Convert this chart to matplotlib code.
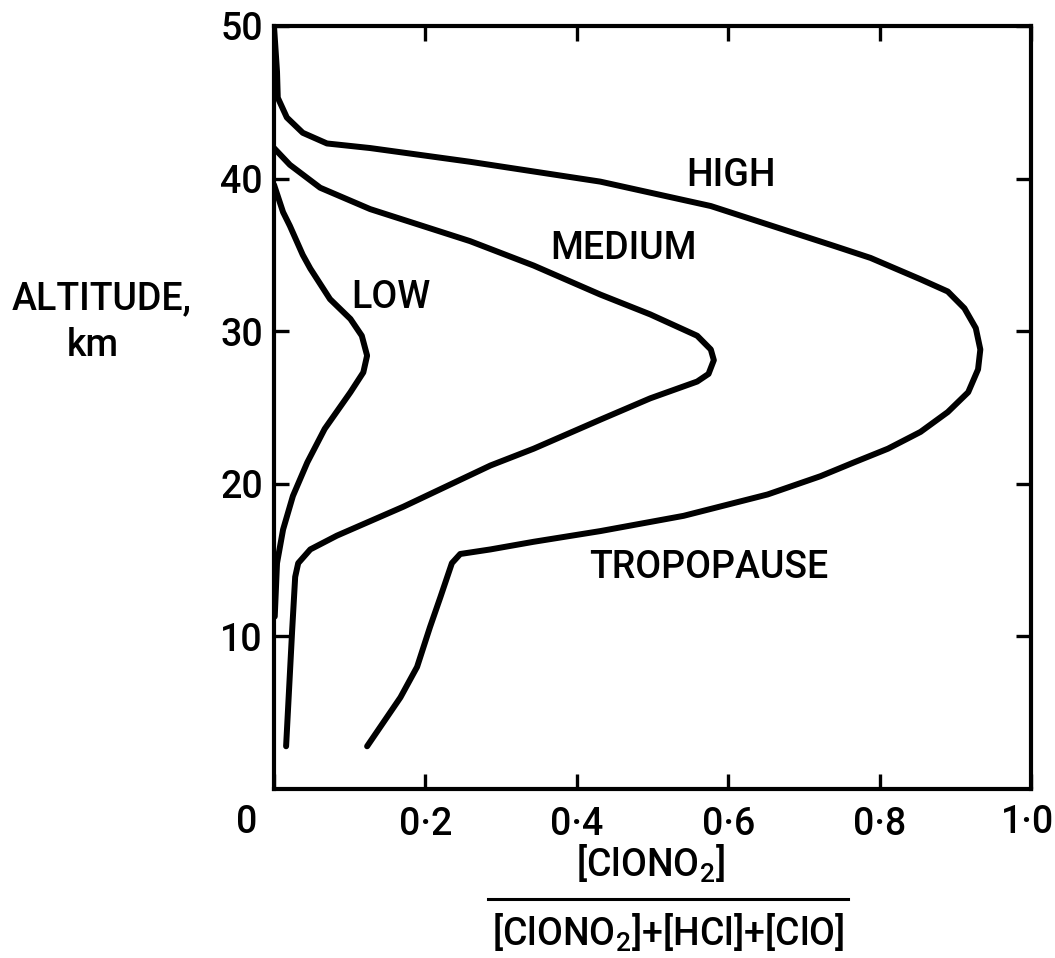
import matplotlib
matplotlib.use("Agg")
import matplotlib.pyplot as plt
from matplotlib.lines import Line2D

plt.rcParams['font.family'] = ['Roboto', 'DejaVu Sans']
plt.rcParams['font.weight'] = 'medium'
plt.rcParams['mathtext.fontset'] = 'custom'
plt.rcParams['mathtext.rm'] = 'Roboto:medium'
plt.rcParams['mathtext.default'] = 'rm'

# ---- data ----
high_x = [0.000, 0.002, 0.004, 0.005, 0.017, 0.038, 0.070, 0.127, 0.259, 0.431, 0.577, 0.739,
          0.788, 0.854, 0.890, 0.912, 0.927, 0.933, 0.930, 0.917, 0.890, 0.854, 0.811, 0.766,
          0.722, 0.652, 0.541, 0.431, 0.343, 0.286, 0.246, 0.235, 0.220, 0.206, 0.189, 0.167, 0.123]
high_y = [50.0, 48.5, 47.0, 45.3, 44.0, 43.0, 42.3, 42.0, 41.1, 39.8, 38.2, 35.6,
          34.8, 33.4, 32.6, 31.5, 30.2, 28.8, 27.5, 26.0, 24.7, 23.4, 22.3, 21.4,
          20.5, 19.3, 17.9, 16.9, 16.2, 15.7, 15.4, 14.8, 12.6, 10.6, 8.0, 6.0, 2.8]

med_x = [0.000, 0.021, 0.061, 0.127, 0.259, 0.343, 0.431, 0.497, 0.559, 0.577, 0.581, 0.574,
         0.559, 0.497, 0.431, 0.343, 0.286, 0.171, 0.083, 0.048, 0.032, 0.028, 0.024, 0.016]
med_y = [42.0, 40.9, 39.4, 38.0, 35.9, 34.3, 32.4, 31.1, 29.7, 28.8, 28.1, 27.2,
         26.7, 25.6, 24.2, 22.3, 21.2, 18.5, 16.6, 15.7, 14.8, 13.9, 10.4, 2.8]

low_x = [0.000, 0.004, 0.012, 0.021, 0.038, 0.048, 0.074, 0.101, 0.116, 0.123, 0.118, 0.101,
         0.067, 0.044, 0.025, 0.012, 0.004, 0.001]
low_y = [39.6, 39.0, 37.8, 36.9, 35.0, 34.1, 32.1, 30.8, 29.7, 28.4, 27.3, 26.0,
         23.6, 21.4, 19.2, 17.0, 14.8, 11.3]

xticks = [0.0, 0.2, 0.4, 0.6, 0.8, 1.0]
xticklabels = ["", "0\u00b72", "0\u00b74", "0\u00b76", "0\u00b78", ""]
yticks = [10, 20, 30, 40, 50]
yticklabels = ["10", "20", "30", "40", "50"]

FS = 27

# ---- figure ----
fig = plt.figure(figsize=(10.55, 9.58), dpi=100)
ax = fig.add_axes([0.2597, 0.1764, 0.9773 - 0.2597, 0.9729 - 0.1764])

lw = 4.3
for xs, ys in [(high_x, high_y), (med_x, med_y), (low_x, low_y)]:
    ax.plot(xs, ys, color='black', lw=lw, solid_joinstyle='round', solid_capstyle='round')

ax.set_xlim(0, 1.0)
ax.set_ylim(0, 50)
ax.set_xticks(xticks)
ax.set_xticklabels(xticklabels)
ax.set_yticks(yticks)
ax.set_yticklabels(yticklabels)

for s in ax.spines.values():
    s.set_linewidth(3.0)
ax.tick_params(axis='both', direction='in', length=11, width=2.4,
               top=True, right=True, labelsize=FS)
ax.tick_params(axis='x', pad=12)
ax.tick_params(axis='y', pad=8)

# corner labels "0" and "1·0"
ax.text(-0.036, -1.0, "0", ha='center', va='top', fontsize=FS)
ax.text(0.995, -1.0, "1\u00b70", ha='center', va='top', fontsize=FS)

# curve labels
ax.text(0.604, 40.2, "HIGH", ha='center', va='center', fontsize=FS)
ax.text(0.462, 35.4, "MEDIUM", ha='center', va='center', fontsize=FS)
ax.text(0.155, 32.2, "LOW", ha='center', va='center', fontsize=FS)
ax.text(0.574, 14.5, "TROPOPAUSE", ha='center', va='center', fontsize=FS)

# y label
fig.text(102 / 1055, 1 - 299 / 958, "ALTITUDE,", ha='center', va='center', fontsize=FS)
fig.text(93 / 1055, 1 - 345 / 958, "km", ha='center', va='center', fontsize=FS)

# x label as a fraction
fig.text(650 / 1055, 1 - 864 / 958, "[ClONO$_2$]", ha='center', va='center', fontsize=FS)
fig.add_artist(Line2D([488 / 1055, 848 / 1055], [1 - 899 / 958, 1 - 899 / 958],
                      color='black', lw=2.2, transform=fig.transFigure))
fig.text(668 / 1055, 1 - 933 / 958, "[ClONO$_2$]+[HCl]+[ClO]", ha='center', va='center', fontsize=FS)

fig.savefig("out.png", dpi=100)
